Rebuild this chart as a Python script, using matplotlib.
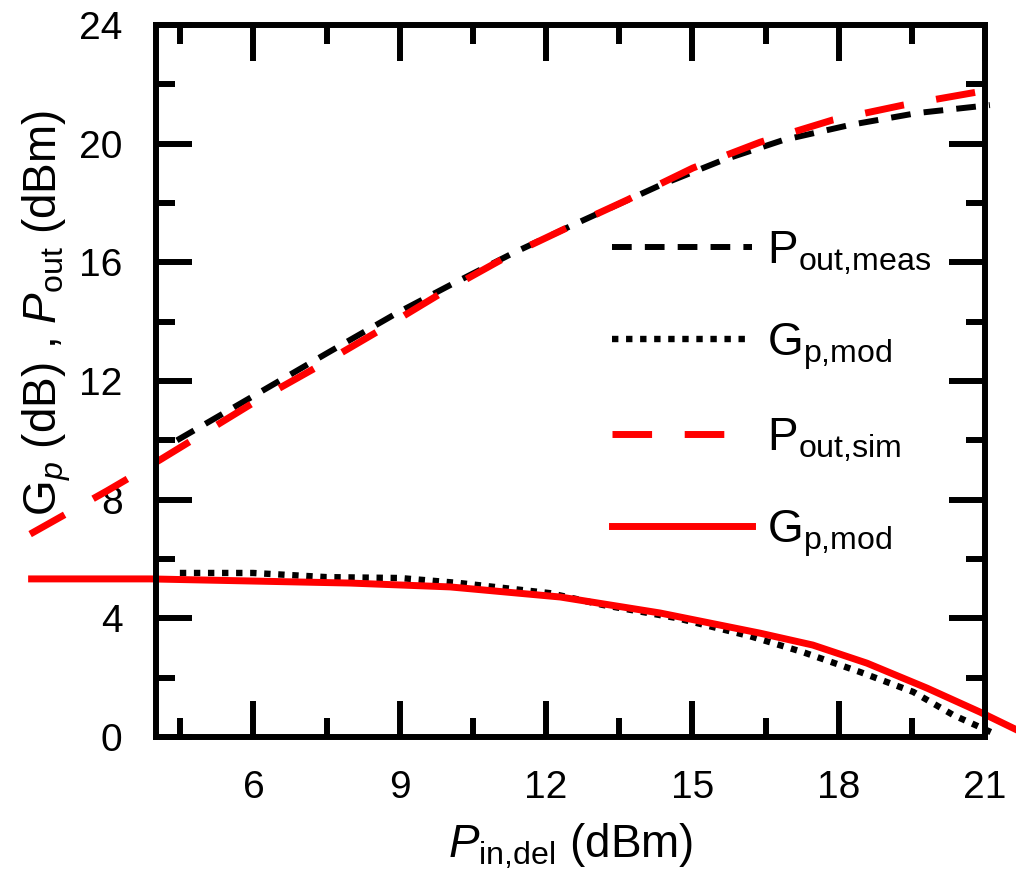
import matplotlib
matplotlib.use("Agg")
import matplotlib.pyplot as plt
from matplotlib.ticker import MultipleLocator

plt.rcParams["font.family"] = ["Liberation Sans", "DejaVu Sans"]
plt.rcParams["mathtext.fontset"] = "custom"
plt.rcParams["mathtext.rm"] = "Liberation Sans"
plt.rcParams["mathtext.it"] = "Liberation Sans:italic"

# P_out measured (black dashed)
pout_meas_x = [4.43, 5.93, 7.51, 8.94, 10.03, 11.32, 12.63, 14.34, 15.63, 16.86, 18.23, 19.6, 21.1]
pout_meas_y = [10.0, 11.43, 12.94, 14.29, 15.23, 16.31, 17.32, 18.6, 19.45, 20.12, 20.63, 21.03, 21.3]

# P_out simulated (red dashed)
pout_sim_x = [1.42, 3.0, 4.08, 5.99, 7.3, 8.6, 9.89, 11.26, 12.63, 13.66, 15.01, 16.39, 17.88, 19.32, 20.84, 21.25]
pout_sim_y = [6.84, 8.3, 9.34, 11.26, 12.47, 13.72, 15.0, 16.25, 17.32, 18.1, 19.18, 20.05, 20.8, 21.3, 21.74, 21.9]

# G_p measured (black dotted)
gp_meas_x = [4.49, 5.99, 7.5, 9.0, 10.23, 12.08, 13.17, 14.68, 16.18, 17.27, 18.44, 19.53, 20.35, 21.17]
gp_meas_y = [5.53, 5.53, 5.39, 5.36, 5.19, 4.85, 4.45, 4.01, 3.40, 2.86, 2.19, 1.52, 0.74, 0.13]

# G_p model (red solid)
gp_mod_x = [1.45, 3.88, 7.98, 10.03, 12.29, 14.34, 16.39, 17.47, 18.58, 19.81, 20.9, 21.64]
gp_mod_y = [5.33, 5.33, 5.19, 5.06, 4.72, 4.18, 3.5, 3.1, 2.49, 1.65, 0.84, 0.25]

labels = [r"P$_{\mathrm{out{,}meas}}$", r"G$_{\mathrm{p{,}mod}}$",
          r"P$_{\mathrm{out{,}sim}}$", r"G$_{\mathrm{p{,}mod}}$"]

fig = plt.figure(figsize=(10.16, 8.83), dpi=100)
ax = fig.add_axes([0.1535, 0.1653, 0.816, 0.8064])

ax.plot(pout_meas_x, pout_meas_y, color="black", lw=4.3, dashes=(3.3, 2.2),
        dash_capstyle="butt", clip_on=False, label=labels[0])
ax.plot(gp_meas_x, gp_meas_y, color="black", lw=4.6, dashes=(1.0, 1.2),
        dash_capstyle="butt", clip_on=False, label=labels[1])
ax.plot(pout_sim_x, pout_sim_y, color="red", lw=5.0, dashes=(5.7, 4.7),
        dash_capstyle="butt", clip_on=False, label=labels[2])
ax.plot(gp_mod_x, gp_mod_y, color="red", lw=5.0, clip_on=False, label=labels[3])

ax.set_xlim(4, 21)
ax.set_ylim(0, 24)
ax.xaxis.set_major_locator(MultipleLocator(3))
ax.xaxis.set_minor_locator(MultipleLocator(1.5))
ax.yaxis.set_major_locator(MultipleLocator(4))
ax.yaxis.set_minor_locator(MultipleLocator(2))
ax.set_xticks([6, 9, 12, 15, 18, 21])

for s in ax.spines.values():
    s.set_linewidth(4.3)
ax.tick_params(which="both", direction="in", top=True, right=True, width=4.3)
ax.tick_params(which="major", length=26, labelsize=28, pad=24)
ax.tick_params(which="minor", length=14)

ax.set_xlabel(r"$\mathit{P}_{\mathrm{in{,}del}}$ (dBm)", fontsize=33, labelpad=11)
ax.set_ylabel(r"G$_{\mathit{p}}$ (dB) , $\mathit{P}_{\mathrm{out}}$ (dBm)", fontsize=33)
ax.yaxis.set_label_coords(-0.1, 0.595)

ax.legend(loc="upper left", bbox_to_anchor=(0.55, 0.713), frameon=False,
          fontsize=33, handlelength=3.05, handletextpad=0.33,
          labelspacing=0.97, borderpad=0, borderaxespad=0)

fig.savefig("out.png", dpi=100)
